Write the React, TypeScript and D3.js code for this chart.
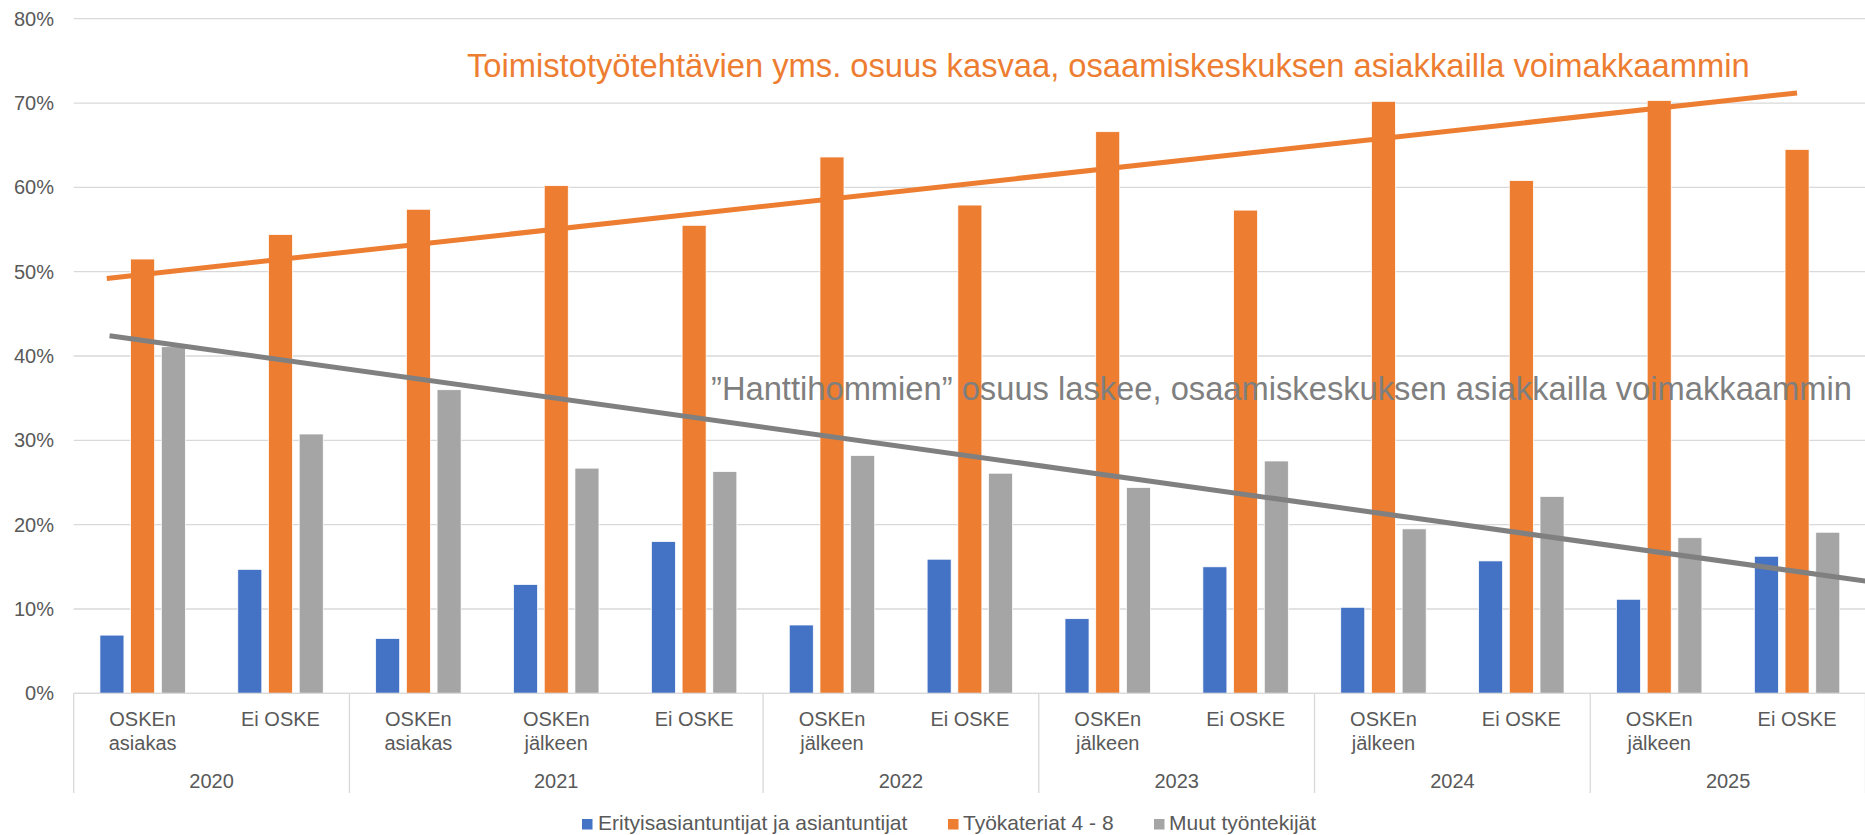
import React from "react";
import * as d3 from "d3";

const categories = [
  { year: "2020", label: ["OSKEn", "asiakas"] },
  { year: "2020", label: ["Ei OSKE"] },
  { year: "2021", label: ["OSKEn", "asiakas"] },
  { year: "2021", label: ["OSKEn", "jälkeen"] },
  { year: "2021", label: ["Ei OSKE"] },
  { year: "2022", label: ["OSKEn", "jälkeen"] },
  { year: "2022", label: ["Ei OSKE"] },
  { year: "2023", label: ["OSKEn", "jälkeen"] },
  { year: "2023", label: ["Ei OSKE"] },
  { year: "2024", label: ["OSKEn", "jälkeen"] },
  { year: "2024", label: ["Ei OSKE"] },
  { year: "2025", label: ["OSKEn", "jälkeen"] },
  { year: "2025", label: ["Ei OSKE"] },
];

const seriesNames = [
  "Erityisasiantuntijat ja asiantuntijat",
  "Työkateriat 4 - 8",
  "Muut työntekijät",
];
const seriesColors = ["#4472C4", "#ED7D31", "#A5A5A5"];

const blueValues = [6.9, 14.7, 6.5, 12.9, 18.0, 8.1, 15.9, 8.85, 15.0, 10.2, 15.7, 11.15, 16.25];
const orangeValues = [51.5, 54.4, 57.4, 60.2, 55.5, 63.6, 57.9, 66.6, 57.3, 70.2, 60.8, 70.3, 64.5];
const grayValues = [41.1, 30.75, 36.0, 26.7, 26.3, 28.2, 26.1, 24.4, 27.55, 19.5, 23.35, 18.45, 19.1];

const yTicks = [0, 10, 20, 30, 40, 50, 60, 70, 80];

// trend lines: position in category units, value in %
const orangeTrend = [
  { pos: 0.24, value: 49.2 },
  { pos: 12.5, value: 71.2 },
];
const grayTrend = [
  { pos: 0.26, value: 42.4 },
  { pos: 13.0, value: 13.3 },
];

const orangeNote = "Toimistotyötehtävien yms. osuus kasvaa, osaamiskeskuksen asiakkailla voimakkaammin";
const grayNote = "”Hanttihommien” osuus laskee, osaamiskeskuksen asiakkailla voimakkaammin";

const W = 1865;
const H = 835;
const FONT = "'Liberation Sans', Arial, sans-serif";

export default function App() {
  const left = 73.7;
  const right = 1866;
  const top = 18.7;
  const bottom = 693.3;

  const y = d3.scaleLinear().domain([0, 80]).range([bottom, top]);
  const x0 = d3
    .scaleBand<number>()
    .domain(categories.map((_, i) => i))
    .range([left, right])
    .paddingInner(0)
    .paddingOuter(0);
  const x1 = d3
    .scaleBand<number>()
    .domain([0, 1, 2])
    .range([0, x0.step()])
    .paddingInner(0.218)
    .paddingOuter(0.854);
  const xPos = d3.scaleLinear().domain([0, categories.length]).range([left, right]);

  const allSeries = [blueValues, orangeValues, grayValues];

  const groups: { year: string; start: number; end: number }[] = [];
  categories.forEach((c, i) => {
    const g = groups[groups.length - 1];
    if (g && g.year === c.year) g.end = i;
    else groups.push({ year: c.year, start: i, end: i });
  });

  const line = d3
    .line<{ pos: number; value: number }>()
    .x((d) => xPos(d.pos))
    .y((d) => y(d.value));

  const legendItems = [
    { x: 582, textX: 598 },
    { x: 948, textX: 963 },
    { x: 1154, textX: 1169 },
  ];

  return (
    <svg
      width={W}
      height={H}
      style={{ position: "absolute", left: 0, top: 0, background: "#fff" }}
      fontFamily={FONT}
    >
      {yTicks.map((t) => (
        <line key={t} x1={left} x2={right} y1={y(t)} y2={y(t)} stroke="#D9D9D9" strokeWidth={1.3} />
      ))}
      {yTicks.map((t) => (
        <text key={t} x={54} y={y(t)} dy="0.35em" textAnchor="end" fontSize={20} fill="#595959">
          {t}%
        </text>
      ))}
      {allSeries.map((vals, si) =>
        vals.map((v, ci) => (
          <rect
            key={`${si}-${ci}`}
            x={(x0(ci) as number) + (x1(si) as number)}
            y={y(v)}
            width={x1.bandwidth()}
            height={y(0) - y(v)}
            fill={seriesColors[si]}
            stroke="#fff"
            strokeWidth={0.75}
          />
        ))
      )}
      <line x1={left} x2={right} y1={bottom} y2={bottom} stroke="#D9D9D9" strokeWidth={1.3} />
      {groups.map((g, i) => (
        <line
          key={`sep${i}`}
          x1={x0(g.start) as number}
          x2={x0(g.start) as number}
          y1={bottom}
          y2={793}
          stroke="#D9D9D9"
          strokeWidth={1.3}
        />
      ))}
      <line x1={right - 0.5} x2={right - 0.5} y1={bottom} y2={793} stroke="#D9D9D9" strokeWidth={1.3} />
      {categories.map((c, i) => (
        <text
          key={`cl${i}`}
          x={(x0(i) as number) + x0.bandwidth() / 2}
          y={726}
          textAnchor="middle"
          fontSize={20}
          fill="#595959"
        >
          {c.label.map((l, li) => (
            <tspan key={li} x={(x0(i) as number) + x0.bandwidth() / 2} dy={li === 0 ? 0 : 24}>
              {l}
            </tspan>
          ))}
        </text>
      ))}
      {groups.map((g, i) => (
        <text
          key={`yl${i}`}
          x={((x0(g.start) as number) + (x0(g.end) as number) + x0.bandwidth()) / 2}
          y={788}
          textAnchor="middle"
          fontSize={20}
          fill="#595959"
        >
          {g.year}
        </text>
      ))}
      <path d={line(orangeTrend) || ""} stroke="#ED7D31" strokeWidth={5} fill="none" />
      <path d={line(grayTrend) || ""} stroke="#808080" strokeWidth={5} fill="none" />
      <text x={467} y={77} fontSize={32.7} fill="#ED7D31">
        {orangeNote}
      </text>
      <text x={711} y={400} fontSize={32.7} fill="#7F7F7F">
        {grayNote}
      </text>
      {seriesNames.map((n, i) => (
        <g key={`lg${i}`}>
          <rect x={legendItems[i].x} y={819} width={10.5} height={10.5} fill={seriesColors[i]} />
          <text x={legendItems[i].textX} y={830} fontSize={21} fill="#595959">
            {n}
          </text>
        </g>
      ))}
    </svg>
  );
}
